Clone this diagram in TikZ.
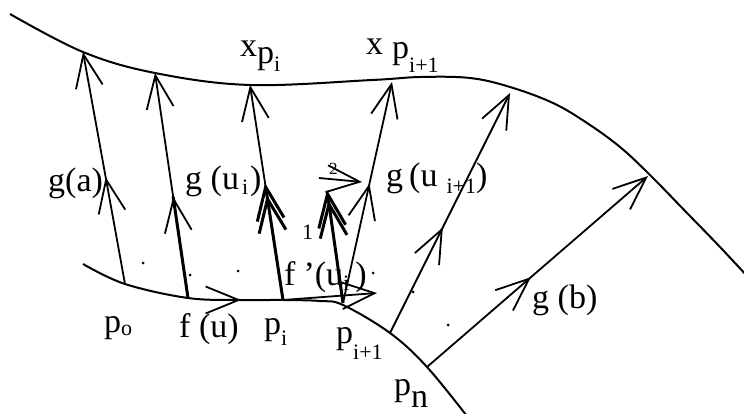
\documentclass[tikz,border=0pt]{standalone}
\usepackage{fontspec}
\setmainfont{Liberation Serif}
\usetikzlibrary{arrows.meta,calc,decorations.markings}

\newcommand{\lbsz}{\fontsize{34}{34}\selectfont}
\newcommand{\smsz}{\fontsize{22}{22}\selectfont}

\begin{document}
\begin{tikzpicture}[
  x=1pt, y=-1pt,
  >={Straight Barb[length=33pt,width=27pt]},
  curve/.style={line width=2pt},
  vec/.style={line width=1.8pt, ->},
  heavy/.style={line width=3pt},
  midhead/.style={postaction={decorate, decoration={markings, mark=at position #1 with {\arrow{>}}}}},
  twoheads/.style 2 args={postaction={decorate, decoration={markings, mark=at position #1 with {\arrow{>}}, mark=at position #2 with {\arrow{>}}}}},
  lbl/.style={inner sep=0pt, anchor=base west, font=\lbsz},
  spot/.style={circle, fill, inner sep=0pt, minimum size=3pt},
]
\useasboundingbox (0,0) rectangle (744,414);

% the two curves
\draw[curve] plot[smooth, tension=0.6] coordinates {(10,14) (83,52) (155,73) (250,85) (372,80) (420,77) (470,78) (510,87) (553,103) (587,123) (620,147) (650,175) (687,213) (720,247) (760,290)};
\draw[curve] plot[smooth, tension=0.6] coordinates {(83,264) (125,284) (188,298) (240,300) (283,300) (320,301) (343,305) (390,333) (427,367) (470,420)};

% points
\coordinate (p0) at (125,284);
\coordinate (fu) at (188,298);
\coordinate (pi) at (283,300);
\coordinate (pi1) at (343,303);
\coordinate (pn1) at (390,333);
\coordinate (pn) at (427,367);
\coordinate (ga) at (83,52);
\coordinate (gu) at (155,73);
\coordinate (xpi) at (250,85);
\coordinate (xpi1) at (392,82);
\coordinate (gun) at (510,93);
\coordinate (gb) at (648,176);
\coordinate (e1) at (327,190);
\coordinate (e2s) at (319,178);
\coordinate (e2) at (362,182);
\coordinate (tg) at (377,293);
\coordinate (fua) at (212,300);
\coordinate (fub) at (241,300);

% vectors
\draw[vec, midhead=0.46] (p0) -- (ga);
\draw[heavy] (fu) -- ($(fu)!0.45!(gu)$);
\draw[vec, midhead=0.45] (fu) -- (gu);
\draw[heavy] (pi) -- ($(pi)!0.5!(xpi)$);
\draw[vec] (pi) -- (xpi);
\path[heavy, twoheads={0.544}{0.488}] (pi) -- (xpi);
\draw[heavy, ->, midhead=0.91] (pi1) -- (e1);
\draw[vec, midhead=0.54] (pi1) -- (xpi1);
\draw[vec] (e2s) -- (e2);
\draw[vec] (pi) -- (tg);
\draw[vec] (fua) -- (fub);
\draw[vec, midhead=0.44] (pn1) -- (gun);
\draw[vec, midhead=0.47] (pn) -- (gb);

% dots
\node[spot] (d1) at (143,263) {};
\node[spot] (d2) at (190,275) {};
\node[spot] (d3) at (238,271) {};
\node[spot] (d4) at (373,273) {};
\node[spot] (d5) at (413,292) {};
\node[spot] (d6) at (448,325) {};

% labels
\node[lbl] (lga) at (48,192) {g(a)};
\node[lbl] (lgu) at (185,190) {g (u\hspace{3pt}\raisebox{-5pt}{\smsz i}\hspace{2pt})};
\node[lbl] (lxpi) at (240,57) {x\raisebox{-7pt}{p\raisebox{-8pt}{\smsz i}}};
\node[lbl] (lxpi1) at (366,55) {x\hspace{9pt}\raisebox{-4pt}{p\raisebox{-14pt}{\smsz i+1}}};
\node[lbl] (lgui1) at (386,186) {g\hspace{6pt}(u\hspace{9pt}\raisebox{-7pt}{\smsz i+1})};
\node[lbl] (lfp) at (284,285) {f\hspace{8pt}'(u\raisebox{-5pt}{\smsz i}\hspace{6pt})};
\node[lbl, font=\smsz] (l1) at (302,240) {1};
\node[lbl, font=\fontsize{17}{17}\selectfont] (l2) at (329,175) {2};
\node[lbl] (lp0) at (104,332) {p\raisebox{-3pt}{\smsz o}};
\node[lbl] (lfu) at (179,337) {f (u)};
\node[lbl] (lpi) at (264,334) {p\raisebox{-11pt}{\smsz i}};
\node[lbl] (lpi1) at (336,343) {p\raisebox{-16pt}{\smsz i+1}};
\node[lbl] (lpn) at (394,395) {p\raisebox{-12pt}{n}};
\node[lbl] (lgb) at (532,308) {g (b)};

\end{tikzpicture}
\end{document}
